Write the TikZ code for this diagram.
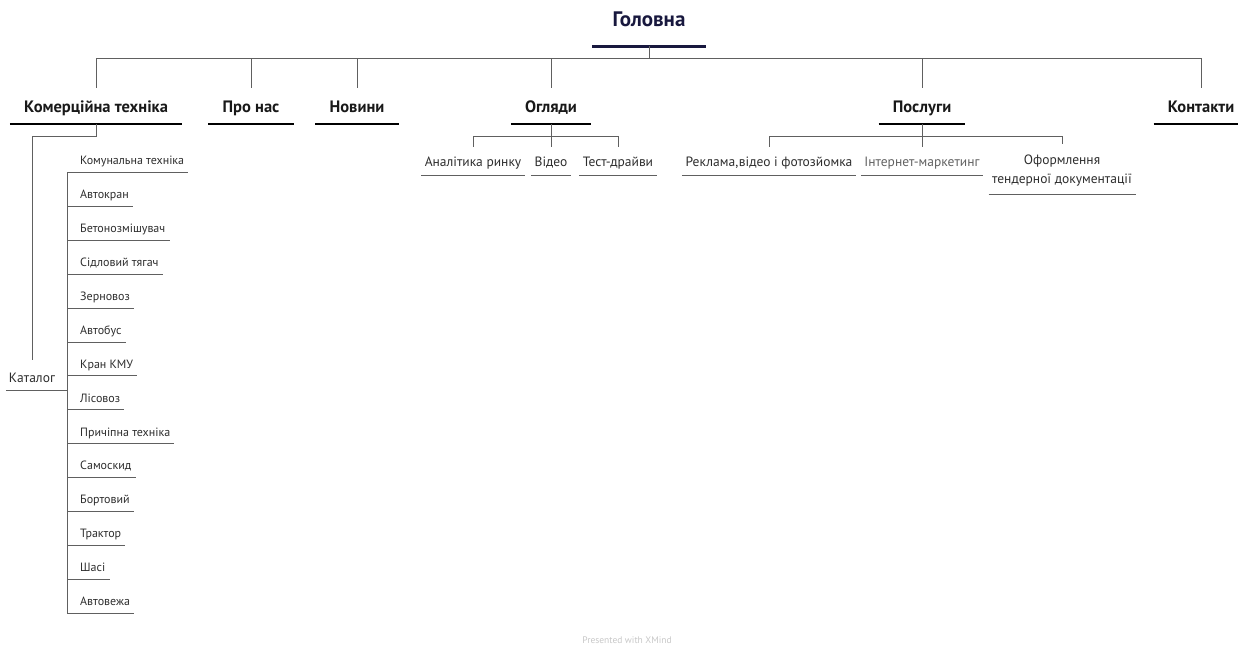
\documentclass[tikz,border=0pt]{standalone}
\usepackage{fontspec}
\setmainfont{PT Sans}
\usetikzlibrary{positioning}
\definecolor{mapnavy}{RGB}{24,24,62}
\definecolor{mapline}{RGB}{96,96,96}
\definecolor{maptext}{RGB}{45,45,45}
\tikzset{
  link/.style={draw=mapline, line width=0.9pt},
  rootnode/.style={anchor=south, inner xsep=20pt, inner ysep=0pt, text=mapnavy,
    font=\bfseries\fontsize{21}{24}\selectfont, text depth=19pt,
    append after command={(\tikzlastnode.south west) edge[draw=mapnavy, line width=3pt] (\tikzlastnode.south east)}},
  topicnode/.style={anchor=south, inner xsep=14pt, inner ysep=0pt, text=black!90,
    font=\bfseries\fontsize{16.5}{20}\selectfont, text height=24pt, text depth=11.5pt,
    append after command={(\tikzlastnode.south west) edge[draw=black, line width=2.4pt] (\tikzlastnode.south east)}},
  subnode/.style={anchor=south, inner xsep=3.5pt, inner ysep=0pt, text=maptext,
    font=\fontsize{13.5}{19.5}\selectfont, text height=20pt, text depth=8pt, align=center,
    append after command={(\tikzlastnode.south west) edge[draw=mapline, line width=0.9pt] (\tikzlastnode.south east)}},
  leafnode/.style={anchor=south west, inner xsep=0pt, inner ysep=0pt, text=maptext,
    font=\fontsize{12}{15}\selectfont, text depth=7.5pt,
    append after command={([xshift=-13pt]\tikzlastnode.south west) edge[draw=mapline, line width=0.9pt] ([xshift=4pt]\tikzlastnode.south east)}},
}
\begin{document}
\begin{tikzpicture}[x=1pt,y=-1pt]
  \useasboundingbox (0,0) rectangle (1238,645);
  % root and main topics
  \node (root) at (649,46) [rootnode] {Головна};
  \node (tech) at (96,124) [topicnode] {Комерційна техніка};
  \node (about) at (251,124) [topicnode] {Про нас};
  \node (news) at (357,124) [topicnode] {Новини};
  \node (reviews) at (551,124) [topicnode] {Огляди};
  \node (services) at (922,124) [topicnode] {Послуги};
  \node (contacts) at (1201,124) [topicnode] {Контакти};
  \draw [link] (root.south) -- ++(0,12) coordinate (rootbar);
  \draw [link] (rootbar) -| (tech.north);
  \draw [link] (rootbar) -| (about.north);
  \draw [link] (rootbar) -| (news.north);
  \draw [link] (rootbar) -| (reviews.north);
  \draw [link] (rootbar) -| (services.north);
  \draw [link] (rootbar) -| (contacts.north);
  % reviews
  \node (market) at (473,175) [subnode] {Аналітика ринку};
  \node (video) at (551,175) [subnode] {Відео};
  \node (drive) at (618,175) [subnode] {Тест-драйви};
  \draw [link] (reviews.south) -- ++(0,12) coordinate (reviewsbar);
  \draw [link] (reviewsbar) -| (market.north);
  \draw [link] (reviewsbar) -- (video.north);
  \draw [link] (reviewsbar) -| (drive.north);
  % services
  \node (promo) at (769,175) [subnode] {Реклама,відео і фотозйомка};
  \node (web) at (922,175) [subnode, text=maptext!75] {Інтернет-маркетинг};
  \node (tender) at (1062,194) [subnode, text height=39.5pt, text depth=10pt] {Оформлення\\тендерної документації};
  \draw [link] (services.south) -- ++(0,12) coordinate (servicesbar);
  \draw [link] (servicesbar) -| (promo.north);
  \draw [link] (servicesbar) -- (web.north);
  \draw [link] (servicesbar) -| (tender.north);
  % catalog
  \node (catalog) at (32,390) [subnode, inner xsep=3pt, text height=23pt, text depth=7pt] {Каталог};
  \draw [link] (tech.south) -- ++(0,12) -| (catalog.north);
  \node (c1) at (80,172.5) [leafnode] {Комунальна техніка};
  \node (c2) at (80,206.4) [leafnode] {Автокран};
  \node (c3) at (80,240.3) [leafnode] {Бетонозмішувач};
  \node (c4) at (80,274.2) [leafnode] {Сідловий тягач};
  \node (c5) at (80,308.1) [leafnode] {Зерновоз};
  \node (c6) at (80,342.0) [leafnode] {Автобус};
  \node (c7) at (80,375.9) [leafnode] {Кран КМУ};
  \node (c8) at (80,409.8) [leafnode] {Лісовоз};
  \node (c9) at (80,443.7) [leafnode] {Причіпна техніка};
  \node (c10) at (80,477.6) [leafnode] {Самоскид};
  \node (c11) at (80,511.5) [leafnode] {Бортовий};
  \node (c12) at (80,545.4) [leafnode] {Трактор};
  \node (c13) at (80,579.3) [leafnode] {Шасі};
  \node (c14) at (80,613.2) [leafnode] {Автовежа};
  \coordinate (leafbar) at ([xshift=-13pt]c1.south west);
  \draw [link] (leafbar) -- ([xshift=-13pt]c14.south west);
  \draw [link] (catalog.south east) -- (catalog.south -| leafbar);
  \node (credit) at (627,640) [text=black!22, font=\fontsize{9.5}{11}\selectfont] {Presented with XMind};
\end{tikzpicture}
\end{document}
